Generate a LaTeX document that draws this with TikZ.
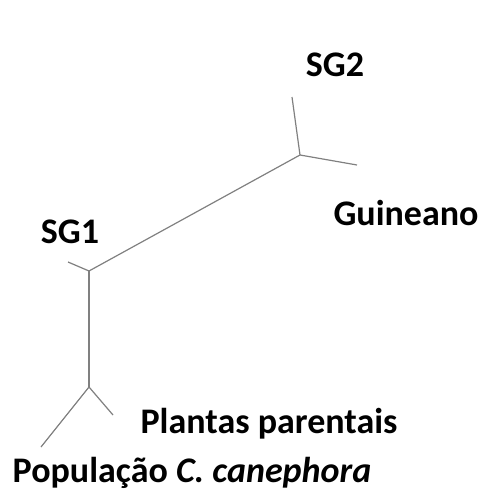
\documentclass[tikz,border=0pt]{standalone}
\usepackage{fontspec}
\setmainfont{Carlito}
\usepackage{tikz}
\usetikzlibrary{positioning}
\tikzset{
    branch/.style={
        draw=black!50,
        line width=1.2pt
    },
    taxon/.style={
        font=\fontsize{36}{36}\selectfont\bfseries,
        inner sep=0pt,
        anchor=base
    }
}
\begin{document}
\begin{tikzpicture}[x=1pt,y=-1pt]

\useasboundingbox (0,0) rectangle (481,495);

% tree nodes
\coordinate (root) at (89,387);
\coordinate (sg1) at (89,271);
\coordinate (sg2) at (300,155);

% leaves
\coordinate (popleaf) at (41,447);
\coordinate (parleaf) at (113,415);
\coordinate (sg1leaf) at (68,262);
\coordinate (sg2leaf) at (292,97);
\coordinate (guileaf) at (357,165);

\draw[branch] (root) -- (popleaf);
\draw[branch] (root) -- (parleaf);
\draw[branch] (root) -- (sg1);
\draw[branch] (sg1) -- (sg1leaf);
\draw[branch] (sg1) -- (sg2);
\draw[branch] (sg2) -- (sg2leaf);
\draw[branch] (sg2) -- (guileaf);

% labels
\node[taxon] (sg2lab) at (335,77) {SG2};
\node[taxon] (sg1lab) at (70,243) {SG1};
\node[taxon] (guilab) at (406,225) {Guineano};
\node[taxon] (parlab) at (269,433) {Plantas parentais};
\node[taxon] (poplab) at (192,482) {População \textit{C. canephora}};

\end{tikzpicture}
\end{document}
